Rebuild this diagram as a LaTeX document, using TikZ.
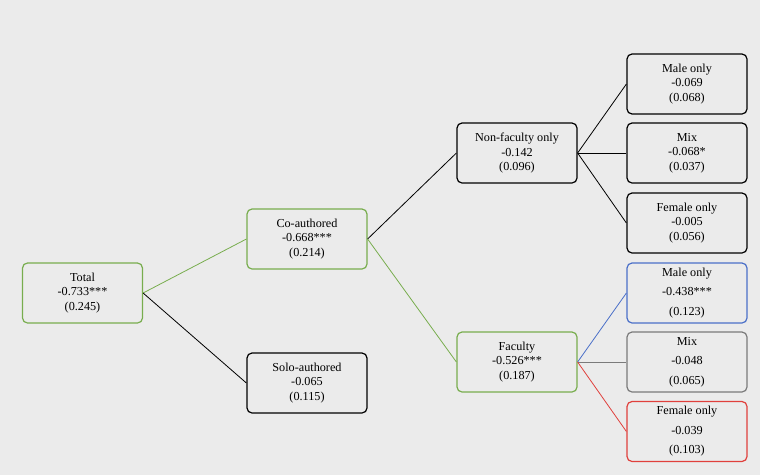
\documentclass[tikz,border=0pt]{standalone}
\usepackage{fontspec}
\setmainfont{Liberation Serif}
\definecolor{bg}{HTML}{EBEBEB}
\definecolor{grn}{HTML}{78AD4E}
\definecolor{blu}{HTML}{4A6FC8}
\definecolor{gry}{HTML}{7A7A7A}
\definecolor{rd}{HTML}{E0403C}
\tikzset{
  box/.style={draw=black, fill=bg, rounded corners=5pt, minimum width=120pt, minimum height=60pt, line width=1.2pt, align=center, font=\fontsize{12.2pt}{14.5pt}\selectfont, inner sep=2pt},
  wide/.style={font=\fontsize{12.2pt}{19.5pt}\selectfont},
  link/.style={line width=0.8pt}
}
\begin{document}
\begin{tikzpicture}[x=1pt,y=1pt]
\useasboundingbox[fill=bg] (0,0) rectangle (760,-475);
\node[box, draw=grn] (total) at (82.5,-293) {Total\\-0.733***\\(0.245)};
\node[box, draw=grn] (co) at (307,-239) {Co-authored\\-0.668***\\(0.214)};
\node[box] (solo) at (307,-383) {Solo-authored\\-0.065\\(0.115)};
\node[box] (nf) at (517,-153) {Non-faculty only\\-0.142\\(0.096)};
\node[box, draw=grn] (fac) at (517,-362) {Faculty\\-0.526***\\(0.187)};
\node[box] (m1) at (687,-84) {Male only\\-0.069\\(0.068)};
\node[box] (x1) at (687,-153) {Mix\\-0.068*\\(0.037)};
\node[box] (f1) at (687,-223) {Female only\\-0.005\\(0.056)};
\node[box, wide, draw=blu] (m2) at (687,-293) {Male only\\-0.438***\\(0.123)};
\node[box, wide, draw=gry] (x2) at (687,-362) {Mix\\-0.048\\(0.065)};
\node[box, wide, draw=rd] (f2) at (687,-431.5) {Female only\\-0.039\\(0.103)};
\draw[link, grn] (total.east) -- (co.west);
\draw[link] (total.east) -- (solo.west);
\draw[link] (co.east) -- (nf.west);
\draw[link, grn] (co.east) -- (fac.west);
\draw[link] (nf.east) -- (m1.west);
\draw[link] (nf.east) -- (x1.west);
\draw[link] (nf.east) -- (f1.west);
\draw[link, blu] (fac.east) -- (m2.west);
\draw[link, gry] (fac.east) -- (x2.west);
\draw[link, rd] (fac.east) -- (f2.west);
\end{tikzpicture}
\end{document}
